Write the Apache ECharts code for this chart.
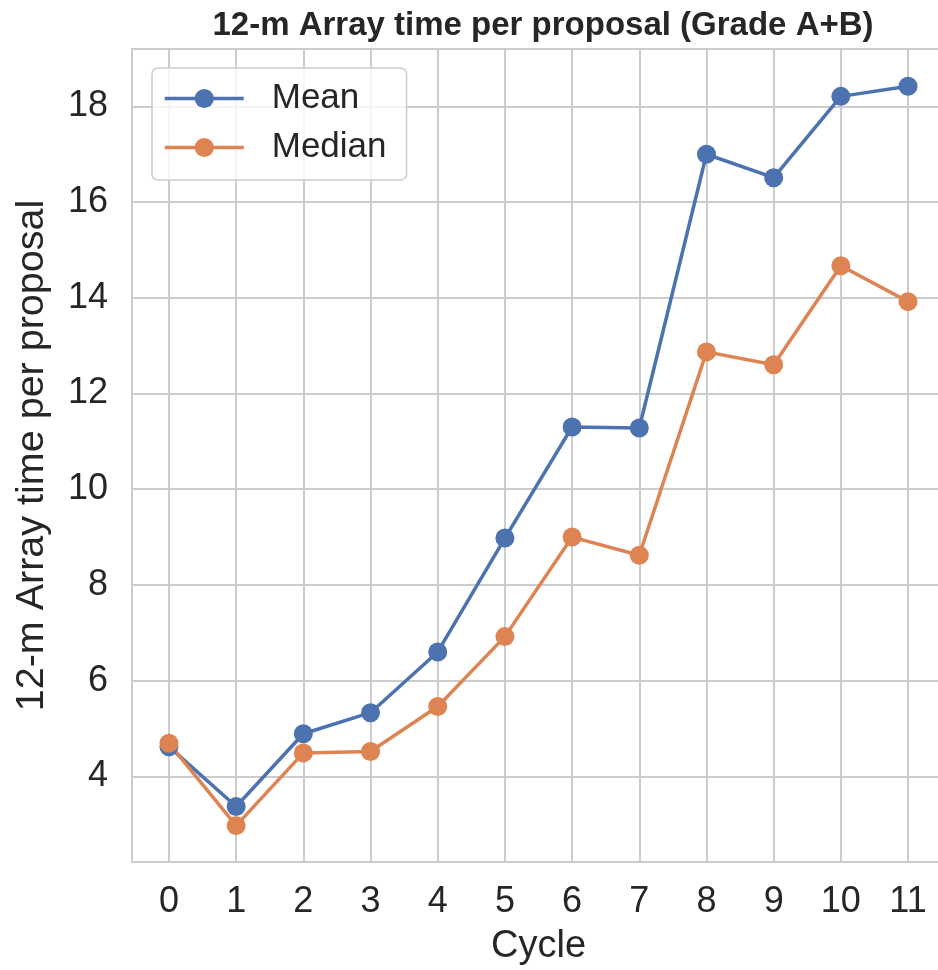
<!DOCTYPE html>
<html><head><meta charset="utf-8">
<script src="https://cdn.jsdelivr.net/npm/echarts@6/dist/echarts.min.js"></script>
<style>html,body{margin:0;padding:0;background:#fff}#c{width:938px;height:970px}</style>
</head><body><div id="c"></div>
<script>
const cycles = [0,1,2,3,4,5,6,7,8,9,10,11];
const meanValues = [4.62,3.37,4.89,5.33,6.60,8.98,11.30,11.28,17.00,16.51,18.21,18.42];
const medianValues = [4.69,2.97,4.49,4.52,5.46,6.92,9.00,8.62,12.87,12.60,14.67,13.92];
const xTicks = [0,1,2,3,4,5,6,7,8,9,10,11];
const yTicks = [4,6,8,10,12,14,16,18];

const FONT = '"Liberation Sans", Arial, Helvetica, sans-serif';
const TXT = '#262626';
const GRIDC = '#cccccc';
const chart = echarts.init(document.getElementById('c'), null, {renderer:'canvas'});
chart.setOption({
  animation:false,
  backgroundColor:'#fff',
  title:{text:'12-m Array time per proposal (Grade A+B)', left:538, top:4, textAlign:'center',
    textStyle:{fontFamily:FONT, fontWeight:'bold', fontSize:33, color:TXT}},
  legend:{left:152, top:68, orient:'vertical', padding:[13,20,15,11], itemGap:14,
    itemWidth:79, itemHeight:24, backgroundColor:'rgba(255,255,255,0.8)',
    borderColor:GRIDC, borderWidth:1.5, borderRadius:6,
    lineStyle:{width:3.5},
    textStyle:{fontFamily:FONT, fontSize:35, color:TXT, padding:[0,0,0,23]},
    data:['Mean','Median']},
  grid:{left:132, top:49, width:813, bottom:108, show:true, borderColor:GRIDC, borderWidth:2,
    containLabel:false, outerBoundsMode:'none'},
  xAxis:{type:'value', min:-0.55, max:11.55,
    name:'Cycle', nameLocation:'middle', nameGap:66,
    nameTextStyle:{fontFamily:FONT, fontSize:38, color:TXT},
    axisLine:{show:false}, axisTick:{show:false, customValues:xTicks},
    axisLabel:{customValues:xTicks, fontFamily:FONT, fontSize:36, color:TXT, margin:22},
    splitLine:{show:true, lineStyle:{color:GRIDC, width:2}}},
  yAxis:{type:'value', min:2.21, max:19.2,
    name:'12-m Array time per proposal', nameLocation:'middle', nameGap:80,
    nameTextStyle:{fontFamily:FONT, fontSize:39.5, color:TXT},
    axisLine:{show:false}, axisTick:{show:false, customValues:yTicks},
    axisLabel:{customValues:yTicks, fontFamily:FONT, fontSize:36, color:TXT, margin:24},
    splitLine:{show:true, lineStyle:{color:GRIDC, width:2}}},
  series:[
    {name:'Mean', type:'line', data:cycles.map((c,i)=>[c,meanValues[i]]),
     symbol:'circle', symbolSize:19, color:'#4c72b0', lineStyle:{width:3.5}, itemStyle:{color:'#4c72b0'}},
    {name:'Median', type:'line', data:cycles.map((c,i)=>[c,medianValues[i]]),
     symbol:'circle', symbolSize:19, color:'#dd8452', lineStyle:{width:3.5}, itemStyle:{color:'#dd8452'}}
  ]
});
</script></body></html>
